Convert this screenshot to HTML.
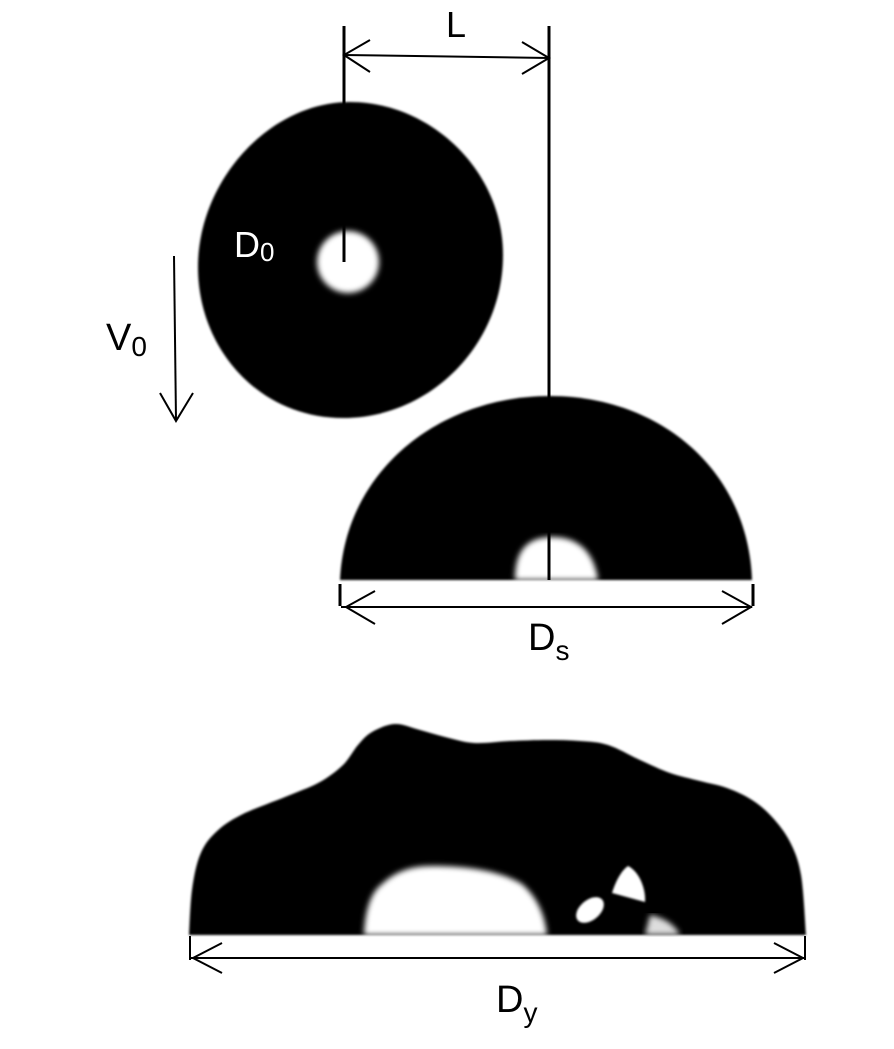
<!DOCTYPE html>
<html><head><meta charset="utf-8"><style>
html,body{margin:0;padding:0;background:#fff;}
svg{display:block;}
text{font-family:"Liberation Sans",sans-serif;}
</style></head><body>
<svg id="s" width="894" height="1049" viewBox="0 0 894 1049">
<defs>
<filter id="bl"><feGaussianBlur stdDeviation="3"/></filter>
<filter id="bl2"><feGaussianBlur stdDeviation="1"/></filter>
</defs>
<rect width="894" height="1049" fill="#fff"/>
<g>
<path d="M350,102 C430,102 503,170 503,255 C503,345 430,418 343,418 C260,418 198,350 198,267 C198,180 270,102 350,102 Z" fill="#000" filter="url(#bl2)"/>
<circle cx="348" cy="262" r="31" fill="#fff" filter="url(#bl)"/>
</g>
<g>
<path d="M340,580 C345,470 440,396 550,396 C660,396 748,470 752,580 Z" fill="#000" filter="url(#bl2)"/>
<path d="M515,580 C515,560 520,537 552,537 C585,537 595,560 598,580 Z" fill="#fff" filter="url(#bl)"/>
</g>
<g>
<path id="splash" d="" fill="#000" filter="url(#bl2)"/>
<path d="M364,935 C365,912 370,893 382,884 C395,872 410,866 432,866 C472,866 502,872 522,884 C537,897 545,915 547,935 Z" fill="#fff" filter="url(#bl)"/>
<ellipse cx="590" cy="910" rx="16" ry="10" transform="rotate(-40 590 910)" fill="#fff" filter="url(#bl2)"/>
<path d="M628,866 C640,872 646,890 645,902 L612,893 C616,880 622,870 628,866 Z" fill="#fff" filter="url(#bl2)"/>
<path d="M650,915 C665,918 675,925 680,935 L645,935 Z" fill="#ddd" filter="url(#bl)"/>
</g>
<g stroke="#000" fill="none">
<line x1="344" y1="26" x2="344" y2="262" stroke-width="3"/>
<line x1="549" y1="26" x2="549" y2="580" stroke-width="3"/>
<g stroke-width="2">
<line x1="344" y1="55" x2="549" y2="58"/>
<polyline points="370,40 344,55 370,72"/>
<polyline points="522,42 549,58 522,74"/>
</g>
<g stroke-width="2">
<line x1="174" y1="256" x2="176" y2="420"/>
<polyline points="160,393 176,421 193,393"/>
</g>
<g>
<line x1="340" y1="584" x2="340" y2="606" stroke-width="3"/>
<line x1="753" y1="584" x2="753" y2="606" stroke-width="3"/>
<line x1="341" y1="607" x2="752" y2="607" stroke-width="2"/>
<polyline points="375,591 346,607 375,624" stroke-width="2"/>
<polyline points="722,591 751,607 722,624" stroke-width="2"/>
</g>
<g>
<line x1="190" y1="936" x2="190" y2="960" stroke-width="2"/>
<line x1="805" y1="936" x2="805" y2="960" stroke-width="2"/>
<line x1="190" y1="958" x2="805" y2="958" stroke-width="2"/>
<polyline points="222,943 193,958 222,973" stroke-width="2"/>
<polyline points="774,943 803,958 774,973" stroke-width="2"/>
</g>
</g>
<text x="446" y="37" font-size="36">L</text>
<text x="234" y="257" font-size="36" fill="#fff">D<tspan font-size="26" dy="4">0</tspan></text>
<text x="106" y="350" font-size="38">V<tspan font-size="28" dy="6">0</tspan></text>
<text x="528" y="650" font-size="38">D<tspan font-size="28" dy="10">s</tspan></text>
<text x="496" y="1012" font-size="38">D<tspan font-size="28" dy="10">y</tspan></text>
</svg>
<script>
const pts=[[189,935],[192,890],[200,855],[215,833],[241,815],[290,795],[320,782],[343,765],[358,745],[372,732],[395,724],[420,730],[445,737],[474,743],[510,741],[547,740],[580,741],[608,745],[640,760],[670,773],[700,781],[727,788],[752,800],[772,817],[790,842],[801,875],[806,935]];
let d='M'+pts[0].join(',');
for(let i=0;i<pts.length-1;i++){
 const p0=pts[Math.max(0,i-1)],p1=pts[i],p2=pts[i+1],p3=pts[Math.min(pts.length-1,i+2)];
 const c1=[p1[0]+(p2[0]-p0[0])/6,p1[1]+(p2[1]-p0[1])/6];
 const c2=[p2[0]-(p3[0]-p1[0])/6,p2[1]-(p3[1]-p1[1])/6];
 d+=` C${c1[0]},${c1[1]} ${c2[0]},${c2[1]} ${p2[0]},${p2[1]}`;
}
d+=' Z';
document.getElementById('splash').setAttribute('d',d);
</script>
</body></html>
